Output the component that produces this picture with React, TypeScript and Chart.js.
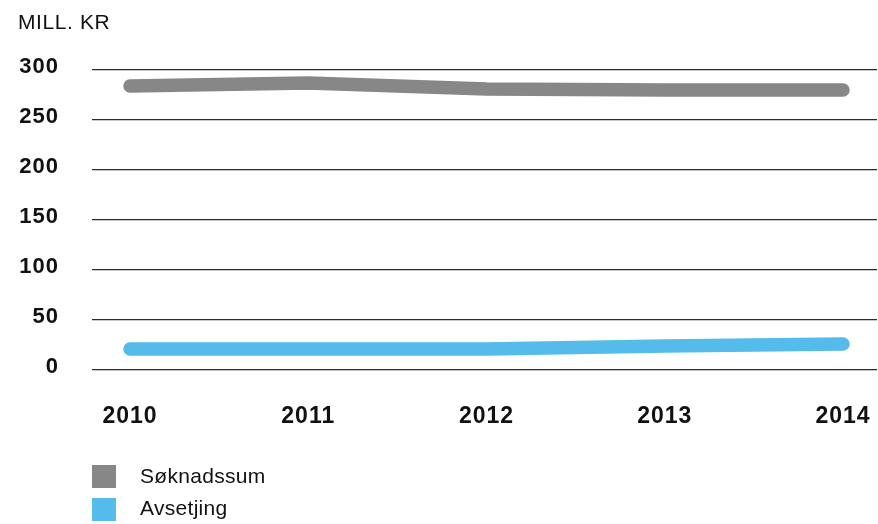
import React, { useEffect, useRef } from "react";
import { Chart, registerables } from "chart.js";

Chart.register(...registerables);

const years = [2010, 2011, 2012, 2013, 2014];
const soknadssum = [284, 287, 281, 280, 280];
const avsetjing = [21, 21, 21, 24, 26];
const yTicks = [0, 50, 100, 150, 200, 250, 300];
const seriesNames = ["Søknadssum", "Avsetjing"];
const seriesColors = ["#868786", "#54BBEA"];
const unitLabel = "MILL. KR";

const FONT = "'Liberation Sans', Arial, Helvetica, sans-serif";

const spacingPlugin = {
  id: "letterSpacing",
  beforeDraw(chart: any) {
    try {
      (chart.ctx as any).letterSpacing = "1px";
    } catch (e) {}
  },
};

export default function App() {
  const ref = useRef<HTMLCanvasElement | null>(null);

  useEffect(() => {
    if (!ref.current) return;
    const chart = new Chart(ref.current, {
      type: "line",
      data: {
        datasets: [soknadssum, avsetjing].map((vals, i) => ({
          label: seriesNames[i],
          data: vals.map((v, j) => ({ x: years[j], y: v })),
          borderColor: seriesColors[i],
          backgroundColor: seriesColors[i],
          borderWidth: 13.5,
          borderCapStyle: "round" as const,
          borderJoinStyle: "round" as const,
          pointRadius: 0,
          tension: 0,
          fill: false,
        })),
      },
      options: {
        animation: false,
        responsive: false,
        maintainAspectRatio: false,
        devicePixelRatio: 1,
        layout: { padding: { top: 70, right: 1, left: 0, bottom: 0 } },
        plugins: {
          legend: { display: false },
          tooltip: { enabled: false },
          title: { display: false },
        },
        scales: {
          x: {
            type: "linear",
            min: 2009.7868,
            max: 2014.1907,
            afterBuildTicks: (scale: any) => {
              scale.ticks = years.map((v) => ({ value: v }));
            },
            afterFit: (scale: any) => {
              scale.height = 154;
              scale.paddingLeft = 0;
              scale.paddingRight = 0;
            },
            grid: { display: false, drawTicks: false },
            border: { display: false },
            ticks: {
              padding: 33,
              color: "#111",
              font: { family: FONT, size: 23, weight: "bold" },
              callback: (v: any) => String(v),
              maxRotation: 0,
              autoSkip: false,
            },
          },
          y: {
            type: "linear",
            min: 0,
            max: 300,
            afterBuildTicks: (scale: any) => {
              scale.ticks = yTicks.map((v) => ({ value: v }));
            },
            afterFit: (scale: any) => {
              scale.width = 92;
              scale.paddingTop = 0;
              scale.paddingBottom = 0;
            },
            grid: { color: "#2a2a2a", lineWidth: 1.3, drawTicks: false },
            border: { display: false },
            ticks: {
              padding: 33,
              labelOffset: -3,
              color: "#111",
              font: { family: FONT, size: 22, weight: "bold" },
            },
          },
        },
      },
      plugins: [spacingPlugin],
    } as any);
    return () => chart.destroy();
  }, []);

  const textStyle: React.CSSProperties = {
    position: "absolute",
    fontFamily: FONT,
    fontSize: 21,
    lineHeight: "21px",
    color: "#111",
    whiteSpace: "nowrap",
  };

  return (
    <div style={{ position: "absolute", left: 0, top: 0, width: 878, height: 524, background: "#fff" }}>
      <canvas ref={ref} width={878} height={524} style={{ position: "absolute", left: 0, top: 0, width: 878, height: 524 }} />
      <div style={{ ...textStyle, left: 18, top: 11, letterSpacing: "0.6px" }}>{unitLabel}</div>
      {seriesNames.map((name, i) => (
        <React.Fragment key={name}>
          <div
            style={{
              position: "absolute",
              left: 92,
              top: i === 0 ? 465 : 498,
              width: 24,
              height: 23,
              background: seriesColors[i],
            }}
          />
          <div style={{ ...textStyle, left: 140, top: i === 0 ? 465 : 497, letterSpacing: "0.3px" }}>{name}</div>
        </React.Fragment>
      ))}
    </div>
  );
}
